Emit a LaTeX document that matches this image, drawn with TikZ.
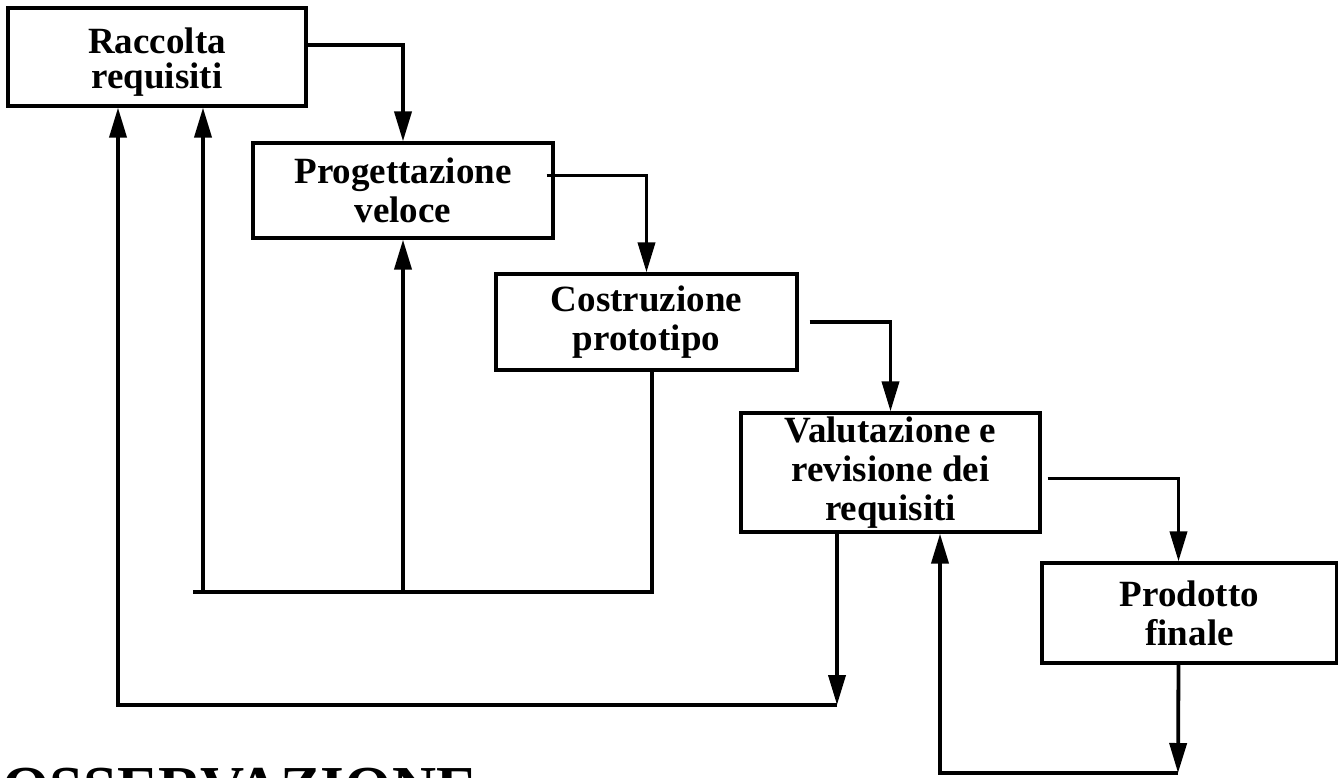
\documentclass[tikz,border=0pt]{standalone}
\usepackage{fontspec}
\setmainfont{Liberation Serif}
\usetikzlibrary{arrows.meta}

\begin{document}
\begin{tikzpicture}[x=1pt,y=-1pt,
  phase/.style={draw, line width=3.2pt, inner sep=0pt, align=center,
    font=\fontsize{37}{39}\selectfont\bfseries},
  link/.style={line width=3.8pt},
  flow/.style={link, -{Triangle[length=30pt,width=17pt]}}]
  \clip (0,0) rectangle (1338,777);
  \useasboundingbox (0,0) rectangle (1338,777);

  % phases of the prototyping cycle
  \node[phase, minimum width=298pt, minimum height=98pt,
    label={[yshift=-5pt, align=center, inner sep=0pt,
      font=\fontsize{37}{35}\selectfont\bfseries]center:Raccolta\\requisiti}] (rac) at (157,57) {};
  \node[phase, minimum width=300pt, minimum height=95pt] (prog) at (403,190.5) {Progettazione\\veloce};
  \node[phase, minimum width=301pt, minimum height=96pt] (cost) at (646.5,322) {Costruzione\\prototipo};
  \node[phase, minimum width=299pt, minimum height=119pt] (val) at (890.5,472.5) {Valutazione e\\revisione dei\\requisiti};
  \node[phase, minimum width=295pt, minimum height=100pt] (prod) at (1189.5,613) {Prodotto\\finale};

  % forward steps
  \draw[flow] ([yshift=12pt]rac.east) -| (prog.north);
  \draw[flow] ([xshift=-8pt,yshift=15pt]prog.east) -| (cost.north);
  \draw[flow] ([xshift=11pt]cost.east) -| (val.north);
  \draw[flow] ([xshift=6pt,yshift=-6pt]val.east) -| ([xshift=-11pt]prod.north);

  % return paths
  \coordinate (r1) at (652,592);
  \coordinate (r2) at (193,592);
  \coordinate (r3) at (203,592);
  \draw[link] (cost.south -| r1) -- (r1) -- (r2);
  \draw[flow] (prog.south |- r1) -- (prog.south);
  \draw[flow] (r3) -- (r3 |- rac.south);

  \coordinate (q1) at (837,705);
  \coordinate (q2) at (118,705);
  \draw[flow] (val.south -| q1) -- (q1);
  \draw[flow] (q1) -- (q2) -- (q2 |- rac.south);

  \coordinate (p1) at (1178,773);
  \coordinate (p2) at (940,773);
  \draw[flow] ([xshift=-11pt]prod.south) -- (p1);
  \draw[flow] (p1) -- (p2) -- (p2 |- val.south);

  % heading below the diagram
  \node[anchor=base west, inner sep=0pt, font=\fontsize{61}{61}\selectfont\bfseries] (oss) at (2,808) {OSSERVAZIONE};
\end{tikzpicture}
\end{document}
